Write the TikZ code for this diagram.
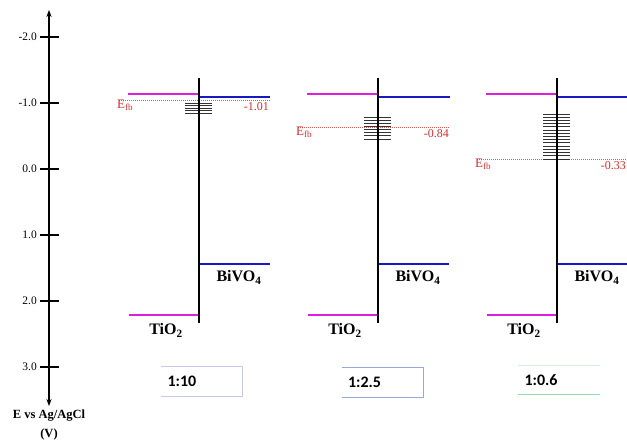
\documentclass[tikz,border=0pt]{standalone}
\usepackage{fontspec}
\setmainfont{Liberation Serif}
\newfontfamily\ratiofont{Carlito}
\usetikzlibrary{arrows.meta}
\definecolor{tiO}{RGB}{222,30,222}
\definecolor{biV}{RGB}{25,25,195}
\definecolor{fbred}{RGB}{215,45,45}
\definecolor{boxlav}{RGB}{200,200,238}
\definecolor{boxblu}{RGB}{150,170,215}
\definecolor{boxgrn}{RGB}{140,220,175}
\definecolor{boxpale}{RGB}{215,240,225}

\begin{document}
\begin{tikzpicture}[
	x=1pt, y=-1pt,
	band/.style = {line width=2.4pt},
	junction/.style = {line width=1.8pt},
	states/.style = {line width=1pt, black!80},
	fbline/.style = {fbred!80, dash pattern=on 1pt off 1pt, line width=0.8pt},
	fblabel/.style = {fbred, inner sep=0pt, font=\fontsize{13}{13}\selectfont},
	fbvalue/.style = {fbred, inner sep=0pt, font=\fontsize{12}{12}\selectfont},
	material/.style = {inner sep=0pt, font=\fontsize{16}{16}\selectfont\bfseries},
	ticklabel/.style = {anchor=east, inner sep=0pt, font=\fontsize{11.5}{11.5}\selectfont},
	ratio/.style = {
		minimum width=81pt,
		minimum height=29pt,
		inner sep=6pt,
		text width=69pt,
		font=\ratiofont\fontsize{16}{16}\selectfont\bfseries,
	},
]
\useasboundingbox (0,0) rectangle (627,445);

% potential axis
\coordinate (atop) at (49,10);
\coordinate (abot) at (49,406);
\draw[line width=1.8pt, {Stealth[length=7pt]}-{Stealth[length=7pt]}] (atop) -- (abot);
\foreach \v/\t in {-2/-2.0, -1/-1.0, 0/0.0, 1/1.0, 2/2.0, 3/3.0}{
	\draw[line width=1.8pt] (40,169+66*\v) -- (59,169+66*\v);
	\node[ticklabel] (tick\v) at (37,169+66*\v) {\t};
}
\node[align=center, inner sep=0pt, font=\fontsize{12.5}{19}\selectfont\bfseries]
	(axlabel) at (49,425) {E vs Ag/AgCl\\(V)};

% one panel per ratio
\foreach \vx/\xr/\ef/\val/\ht/\hb/\n/\k in {
	199/270/100/-1.01/103/113/5/1,
	378/450/127/-0.84/117/139/8/2,
	557/627/159/-0.33/114/159/15/3}{
	% conduction and valence bands
	\draw[band, tiO] (\vx-71,94) -- (\vx,94);
	\draw[band, biV] (\vx,97) -- (\xr,97);
	\draw[band, biV] (\vx,264) -- (\vx+71,264);
	\draw[band, tiO] (\vx-70,315) -- (\vx,315);
	% flat band potential
	\draw[fbline] (\vx-80,\ef) -- (\xr,\ef);
	\node[fblabel, anchor=base west] (efb\k) at (\vx-82,\ef+8) {E\textsubscript{fb}};
	\node[fbvalue, anchor=base east] (val\k) at (\xr-1,\ef+10) {\val};
	% interface states
	\pgfmathsetmacro\hs{(\hb-\ht)/(\n-1)}
	\foreach \j in {1,...,\n}{
		\draw[states] (\vx-14,\ht+\hs*\j-\hs) -- (\vx+13,\ht+\hs*\j-\hs);
	}
	% interface
	\draw[junction] (\vx,78) -- (\vx,323);
	\node[material] (bv\k) at (\vx+40,283) {BiVO\textsubscript{4}};
	\node[material] (ti\k) at (\vx-33,336) {TiO\textsubscript{2}};
}

% ratio boxes
\node[ratio] (r1) at (202,381.5) {1:10};
\draw[boxlav, line width=0.8pt] (r1.north west) -- (r1.north east) -- (r1.south east) -- (r1.south west);
\node[ratio] (r2) at (382.5,382.5) {1:2.5};
\draw[boxblu, line width=0.8pt] (r2.north west) -- (r2.north east) -- (r2.south east) -- (r2.south west);
\node[ratio] (r3) at (559,380) {1:0.6};
\draw[boxpale, line width=0.8pt] (r3.north west) -- (r3.north east);
\draw[boxgrn, line width=1.2pt] (r3.south west) -- (r3.south east);

\end{tikzpicture}
\end{document}
